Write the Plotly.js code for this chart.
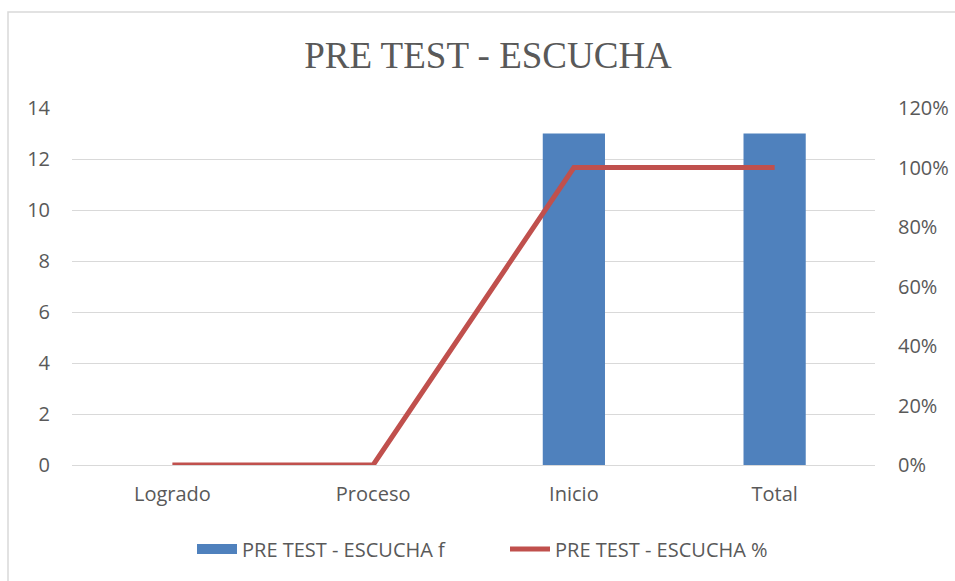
<!DOCTYPE html>
<html><head><meta charset="utf-8">
<script src="https://cdn.plot.ly/plotly-3.0.1.min.js"></script>
<style>html,body{margin:0;padding:0;background:#fff}#c{width:955px;height:581px}</style>
</head><body><div id="c"></div>
<script>
const categories = ["Logrado", "Proceso", "Inicio", "Total"];
const freqValues = [0, 0, 13, 13];
const pctValues = [0, 0, 1.0, 1.0];
const leftTicks = [0, 2, 4, 6, 8, 10, 12, 14];
const rightTicks = [0, 0.2, 0.4, 0.6, 0.8, 1.0, 1.2];
const rightTickText = ["0%", "20%", "40%", "60%", "80%", "100%", "120%"];
const barName = "PRE TEST - ESCUCHA f";
const lineName = "PRE TEST - ESCUCHA %";

const L = 72, R = 80, T = 108, B = 116, W = 955, H = 581;
const pw = W - L - R, ph = H - T - B;
const txt = "#595959";
const fnt = {family: "'Open Sans', sans-serif", size: 20, color: txt};

const data = [
  {type: "bar", x: categories, y: freqValues, name: barName, showlegend: false, legendgroup: "f",
   marker: {color: "#4F81BD"}, width: 0.31, yaxis: "y"},
  {type: "scatter", mode: "lines", x: categories, y: pctValues, name: lineName, showlegend: false, legendgroup: "p",
   line: {color: "#C0504D", width: 5}, yaxis: "y2", cliponaxis: false},
  {type: "scatter", mode: "lines", x: [null], y: [null], name: barName, legendgroup: "f",
   line: {color: "#4F81BD", width: 14}, yaxis: "y"},
  {type: "scatter", mode: "lines", x: [null], y: [null], name: lineName, legendgroup: "p",
   line: {color: "#C0504D", width: 5}, yaxis: "y2"}
];
const layout = {
  width: W, height: H,
  margin: {l: L, r: R, t: T, b: B, autoexpand: false},
  paper_bgcolor: "#fff", plot_bgcolor: "#fff",
  title: {text: "PRE TEST - ESCUCHA", font: {family: "'Liberation Serif', serif", size: 37, color: txt},
          xref: "container", x: 488/W, xanchor: "center", y: 1 - 55/H, yanchor: "middle"},
  font: fnt,
  showlegend: true,
  legend: {orientation: "h", x: (192 - L)/pw, xanchor: "left",
           y: -(549 - 465)/ph, yanchor: "middle",
           font: fnt, traceorder: "normal", itemwidth: 40, tracegroupgap: 0,
           entrywidth: 258, entrywidthmode: "pixels"},
  xaxis: {showgrid: false, zeroline: false, showline: false, ticks: "", tickfont: fnt,
          ticklabelstandoff: 15, tickangle: 0},
  yaxis: {range: [0, 14], tickvals: leftTicks, showgrid: true, gridcolor: "#D9D9D9", gridwidth: 1,
          zeroline: true, zerolinecolor: "#D9D9D9", showline: false, ticks: "", tickfont: fnt,
          ticklabelstandoff: 21},
  yaxis2: {range: [0, 1.2], overlaying: "y", side: "right", tickvals: rightTicks, ticktext: rightTickText,
           showgrid: false, zeroline: false, showline: false, ticks: "", tickfont: fnt,
           ticklabelstandoff: 22},
  shapes: [{type: "rect", xref: "paper", yref: "paper",
            x0: (8 - L)/pw, x1: (W + 5 - L)/pw, y0: -(H + 5 - ph - T)/ph, y1: 1 + (T - 12)/ph,
            line: {color: "#D9D9D9", width: 1.5}, layer: "below"}]
};
Plotly.newPlot("c", data, layout, {displayModeBar: false, staticPlot: true});
</script></body></html>
